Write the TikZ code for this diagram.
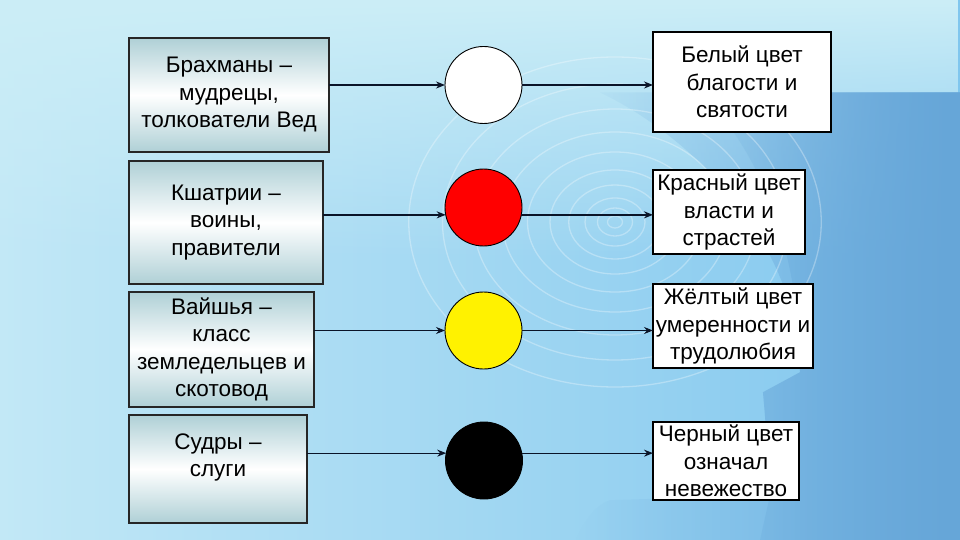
\documentclass[tikz,border=0pt]{standalone}
\usepackage{fontspec}
\setmainfont{Liberation Sans}
\usetikzlibrary{arrows.meta,fadings}
\definecolor{bgA}{HTML}{C2E8F6}
\definecolor{bgB}{HTML}{9ED8F2}
\definecolor{bgC}{HTML}{80C6EE}
\definecolor{bgTop}{HTML}{CCEEF7}
\definecolor{dkA}{HTML}{72B0E0}
\definecolor{dkB}{HTML}{66A6D8}
\definecolor{boxEdge}{HTML}{AFD0D6}
\definecolor{arrowc}{HTML}{0A1428}
\tikzfading[name=topfade, top color=transparent!0, bottom color=transparent!100]
\tikzfading[name=leftfade, left color=transparent!100, right color=transparent!0]
\tikzfading[name=edgefade, left color=transparent!100, middle color=transparent!0, right color=transparent!0]
\tikzset{
  txt/.style={align=center, font=\fontsize{22.5}{27.5}\selectfont, text=black},
  lbox/.style={txt, draw=black!85, line width=1.2pt, top color=boxEdge, bottom color=boxEdge, middle color=white, inner sep=1pt, outer sep=0pt},
  rbox/.style={txt, draw=black, line width=1.2pt, fill=white, inner sep=1pt, outer sep=0pt},
  dot/.style={circle, draw=black, line width=0.9pt, minimum size=77pt, inner sep=0pt, outer sep=0pt},
  arr/.style={draw=arrowc, line width=1.8pt, -{Stealth[length=9pt,width=7pt]}},
  arrthin/.style={arr, line width=1.2pt},
  ring/.style={draw=white, opacity=0.3, line width=1.3pt}
}
\begin{document}
\begin{tikzpicture}[x=1pt,y=-1pt]
\useasboundingbox (0,0) rectangle (960,540);
% background
\shade[left color=bgA, middle color=bgB, right color=bgC] (0,0) rectangle (960,540);
\fill[bgTop, path fading=topfade] (0,0) rectangle (960,260);
\fill[dkA, path fading=leftfade]
  (600,92) -- (960,92) -- (960,540) -- (575,540)
  .. controls (585,520) and (595,505) .. (610,500)
  -- (770,495) -- (765,415) -- (763,392) -- (800,372)
  .. controls (800,250) and (700,140) .. (600,92) -- cycle;
\fill[dkB, path fading=edgefade]
  (700,92) -- (960,92) -- (960,540) -- (760,540) -- (770,495) -- (765,415) -- (763,392) -- (800,372)
  .. controls (800,250) and (760,150) .. (700,92) -- cycle;
\foreach \r in {6,14,24,37,52,70,90,113,138,165}
  \draw[ring] (615,222) ellipse ({1.25*\r} and {\r});
% left boxes
\node[lbox, minimum width=200pt, minimum height=114pt] (l1) at (229,95) {Брахманы –\\мудрецы,\\толкователи Вед};
\node[lbox, minimum width=194pt, minimum height=123pt] (l2) at (226,222.5) {Кшатрии –\\воины,\\правители};
\node[lbox, minimum width=185pt, minimum height=115pt] (l3) at (221.5,349.5) {Вайшья –\\класс\\земледельцев и\\скотовод};
\node[lbox, minimum width=178pt, minimum height=108pt] (l4) at (218,469) {Судры –\\слуги\\\mbox{}};
% circles
\node[dot, fill=white] (c1) at (483.5,85) {};
\node[dot, fill=red] (c2) at (483.5,207.5) {};
\node[dot, fill=yellow] (c3) at (483.5,330.5) {};
\node[dot, fill=black] (c4) at (484,460.5) {};
% right boxes
\node[rbox, minimum width=178pt, minimum height=100pt] (r1) at (742,82) {Белый цвет\\благости и\\ святости};
\node[rbox, minimum width=152pt, minimum height=84pt] (r2) at (729,212) {Красный цвет\\власти и\\страстей};
\node[rbox, minimum width=160pt, minimum height=84pt] (r3) at (733,326) {Жёлтый цвет\\умеренности и\\ трудолюбия};
\node[rbox, minimum width=146pt, minimum height=78pt] (r4) at (726,461) {Черный цвет\\означал\\невежество};
% connectors
\draw[arr] (c1.west -| l1.east) -- (c1.west);
\draw[arr] (c1.east) -- (c1.east -| r1.west);
\draw[arr] (c2.191 -| l2.east) -- (c2.191);
\draw[arr] (c2.-11) -- (c2.-11 -| r2.west);
\draw[arrthin] (c3.west -| l3.east) -- (c3.west);
\draw[arrthin] (c3.east) -- (c3.east -| r3.west);
\draw[arrthin] (c4.169 -| l4.east) -- (c4.169);
\draw[arrthin] (c4.11) -- (c4.11 -| r4.west);
\end{tikzpicture}
\end{document}
